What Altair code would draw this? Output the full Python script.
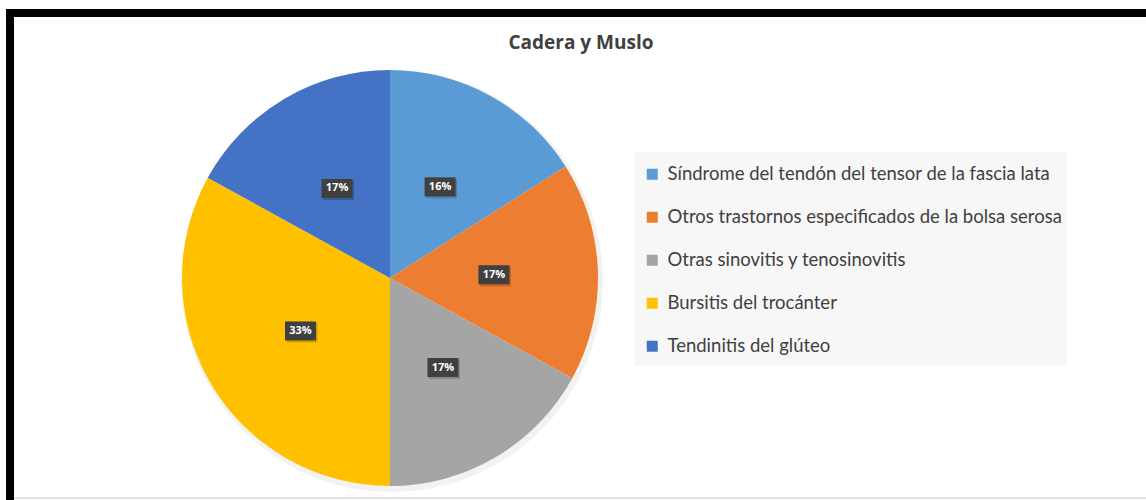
import altair as alt
import pandas as pd

# ---- data ----
title_text = "Cadera y Muslo"
categories = [
    "Síndrome del tendón del tensor de la fascia lata",
    "Otros trastornos especificados de la bolsa serosa",
    "\u00a0Otras sinovitis y tenosinovitis",
    "Bursitis del trocánter",
    "Tendinitis del glúteo",
]
values = [16, 17, 17, 33, 17]
colors = ["#5B9BD5", "#ED7D31", "#A5A5A5", "#FFC000", "#4472C4"]

W, H = 1146, 500
CX, CY, R = 390, 278, 208
LABEL_R = 104

df = pd.DataFrame({"idx": list(range(len(categories))), "cat": categories, "value": values})

base = alt.Chart(df)

color_scale = alt.Scale(domain=categories, range=colors)

# legend background
legend_bg = alt.Chart(pd.DataFrame({"k": [0]})).mark_rect(color="#F7F7F7").encode(
    x=alt.value(635), x2=alt.value(1067), y=alt.value(152), y2=alt.value(366)
)

# faint pie shadow
shadow = base.mark_arc(outerRadius=R + 3, opacity=0.05, color="#000000").encode(
    theta=alt.Theta("value:Q", stack=True),
    order=alt.Order("idx:Q"),
    x=alt.value(CX + 2), y=alt.value(CY + 3),
)

pie = base.mark_arc(outerRadius=R).encode(
    theta=alt.Theta("value:Q", stack=True),
    order=alt.Order("idx:Q"),
    color=alt.Color(
        "cat:N",
        scale=color_scale,
        sort=categories,
        legend=alt.Legend(
            title=None,
            orient="none",
            legendX=643,
            legendY=165,
            symbolType="square",
            symbolSize=121,
            symbolStrokeWidth=0,
            labelFont="Lato",
            labelFontSize=18.5,
            labelColor="#404040",
            labelOffset=6,
            labelLimit=600,
            rowPadding=24,
            padding=0,
        ),
    ),
    x=alt.value(CX), y=alt.value(CY),
)

lab = base.transform_window(
    cum="sum(value)", sort=[alt.SortField("idx")], frame=[None, 0]
).transform_joinaggregate(total="sum(value)").transform_calculate(
    mid="(datum.cum - datum.value/2) / datum.total * 2 * PI",
    lx=f"{CX} + {LABEL_R} * sin(datum.mid)",
    ly=f"{CY} - {LABEL_R} * cos(datum.mid)",
    bx1="datum.lx - 15.5",
    bx2="datum.lx + 15.5",
    by1="datum.ly - 9.5",
    by2="datum.ly + 9.5",
    sx1="datum.lx - 14",
    sx2="datum.lx + 17",
    sy1="datum.ly - 8",
    sy2="datum.ly + 11.5",
    txt="datum.value + '%'",
)

box_shadow = lab.mark_rect(color="#000000", opacity=0.18).encode(
    x=alt.X("sx1:Q", scale=None), x2="sx2:Q",
    y=alt.Y("sy1:Q", scale=None), y2="sy2:Q",
)
boxes = lab.mark_rect(color="#404040").encode(
    x=alt.X("bx1:Q", scale=None), x2="bx2:Q",
    y=alt.Y("by1:Q", scale=None), y2="by2:Q",
)
texts = lab.mark_text(
    font="Open Sans", fontSize=11, fontWeight="bold", color="#FFFFFF",
    align="center", baseline="middle",
).encode(
    x=alt.X("lx:Q", scale=None), y=alt.Y("ly:Q", scale=None), text="txt:N"
)

title = alt.Chart(pd.DataFrame({"t": [title_text]})).mark_text(
    font="Open Sans", fontSize=19, fontWeight="bold", color="#404040",
    align="center", baseline="middle",
).encode(x=alt.value(581), y=alt.value(43), text="t:N")

frame_top = alt.Chart(pd.DataFrame({"k": [0]})).mark_rect(color="#000000").encode(
    x=alt.value(6), x2=alt.value(W), y=alt.value(9), y2=alt.value(17)
)
frame_left = alt.Chart(pd.DataFrame({"k": [0]})).mark_rect(color="#000000").encode(
    x=alt.value(6), x2=alt.value(14), y=alt.value(9), y2=alt.value(H)
)
bottom_line = alt.Chart(pd.DataFrame({"k": [0]})).mark_rect(color="#E3E3E3").encode(
    x=alt.value(14), x2=alt.value(W), y=alt.value(497), y2=alt.value(499)
)

chart = alt.layer(
    legend_bg, shadow, pie, box_shadow, boxes, texts, title, frame_top, frame_left, bottom_line
).properties(
    width=W, height=H, padding=0, autosize=alt.AutoSizeParams(type="none"),
    background="#FFFFFF",
).configure_view(stroke=None)

chart.save("out.html", embed_options={"renderer": "svg", "actions": False})
